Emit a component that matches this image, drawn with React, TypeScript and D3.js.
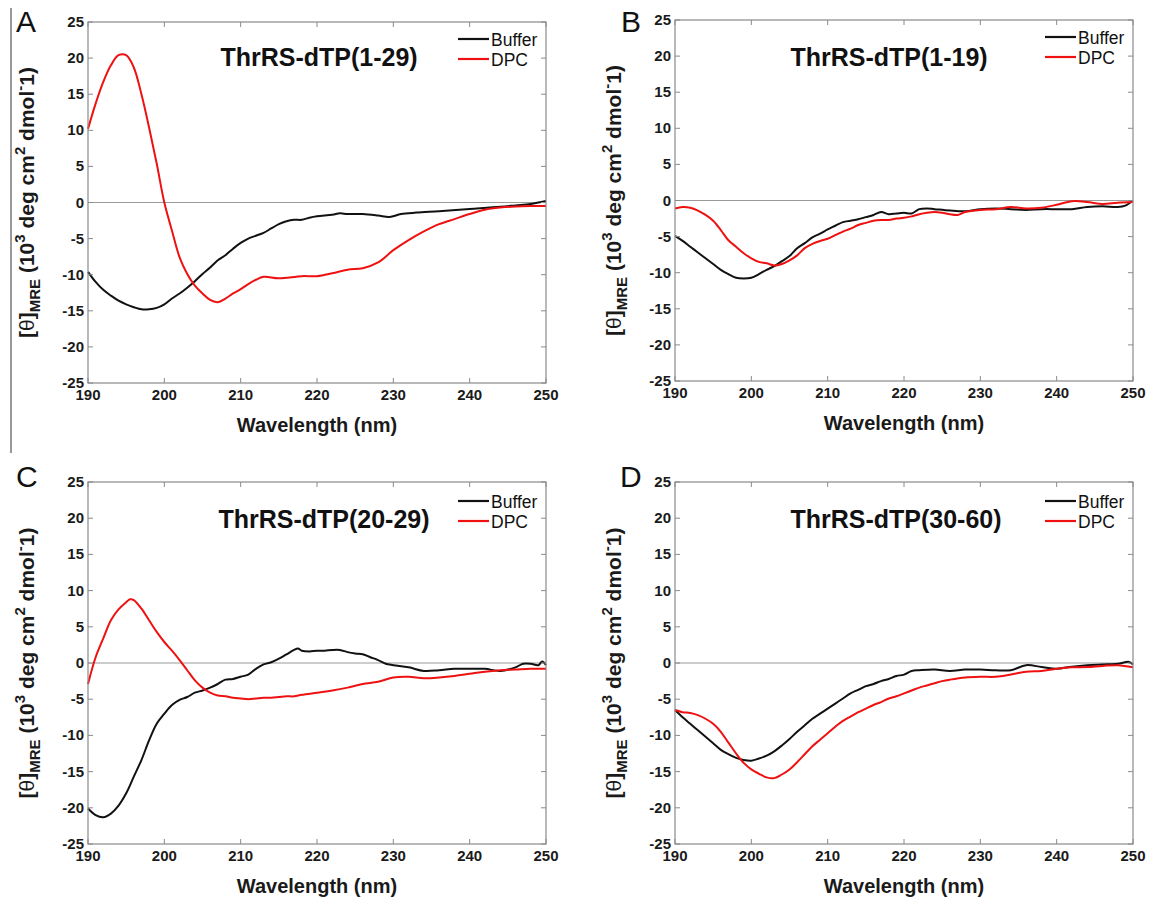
import React, { useRef, useEffect } from 'react';
import * as d3 from 'd3';

// axis ticks shared by all four panels
const wavelengthTicks = [190, 200, 210, 220, 230, 240, 250];
const thetaTicks = [-25, -20, -15, -10, -5, 0, 5, 10, 15, 20, 25];
const seriesNames = ['Buffer', 'DPC'];
const seriesColors = ['#111111', '#ee1111'];
const panelLetters = ['A', 'B', 'C', 'D'];
const panelTitles = ['ThrRS-dTP(1-29)', 'ThrRS-dTP(1-19)', 'ThrRS-dTP(20-29)', 'ThrRS-dTP(30-60)'];

// [wavelength nm, theta MRE 10^3 deg cm2 dmol-1]
const bufferA = [
  [190, -9.6], [191, -11.0], [192, -12.1], [193, -12.9], [194, -13.6], [195, -14.1], [196, -14.5],
  [197, -14.8], [198, -14.8], [199, -14.6], [200, -14.1], [201, -13.3], [202, -12.6], [203, -11.8],
  [204, -10.9], [205, -9.9], [206, -9.0], [207, -8.0], [208, -7.3], [209, -6.4], [210, -5.6],
  [211, -5.0], [212, -4.6], [213, -4.2], [214, -3.6], [215, -3.0], [216, -2.6], [217, -2.4],
  [218, -2.4], [219, -2.1], [220, -1.9], [222, -1.7], [223, -1.5], [224, -1.6], [226, -1.6],
  [228, -1.8], [229.5, -2.0], [231, -1.6], [233, -1.4], [236, -1.2], [240, -0.9], [244, -0.6],
  [246, -0.4], [248, -0.2], [250, 0.2],
];
const dpcA = [
  [190, 10.2], [191, 13.7], [192, 16.7], [193, 19.0], [194, 20.4], [195, 20.4],
  [196, 18.7], [197, 15.0], [198, 10.4], [199, 5.4], [200, 0.0], [201, -3.9], [202, -7.6],
  [203, -9.9], [204, -11.5], [205, -12.6], [206, -13.5], [207, -13.8], [208, -13.3], [209, -12.6],
  [210, -12.0], [211, -11.3], [212, -10.7], [213, -10.3], [215, -10.5], [218, -10.2], [220, -10.2],
  [222, -9.8], [224, -9.3], [226, -9.1], [228, -8.3], [230, -6.6], [232, -5.2], [234, -4.0],
  [236, -3.0], [238, -2.3], [240, -1.6], [242, -1.0], [244, -0.7], [246, -0.55], [248, -0.5],
  [250, -0.5],
];
const bufferB = [
  [190, -4.9], [191, -5.6], [192, -6.4], [193, -7.2], [194, -8.0], [195, -8.8], [196, -9.6],
  [197, -10.2], [198, -10.7], [199, -10.8], [200, -10.7], [201, -10.2], [202, -9.6], [203, -9.1],
  [204, -8.4], [205, -7.7], [206, -6.6], [207, -5.9], [208, -5.1], [209, -4.6], [210, -4.0],
  [211, -3.5], [212, -3.0], [213, -2.8], [214, -2.6], [215, -2.3], [216, -2.0], [217, -1.6],
  [218, -1.9], [219, -1.8], [220, -1.7], [221, -1.8], [222, -1.2], [223, -1.1], [224, -1.2],
  [226, -1.4], [228, -1.5], [230, -1.2], [232, -1.1], [234, -1.2], [236, -1.3], [238, -1.2],
  [240, -1.2], [242, -1.2], [244, -0.9], [246, -0.8], [248, -0.9], [249, -0.7], [250, 0.0],
];
const dpcB = [
  [190, -1.1], [191, -0.9], [192, -1.0], [193, -1.4], [194, -2.0], [195, -2.8], [196, -4.1],
  [197, -5.5], [198, -6.4], [199, -7.3], [200, -8.0], [201, -8.5], [202, -8.7], [203, -9.0],
  [204, -8.8], [205, -8.3], [206, -7.6], [207, -6.6], [208, -6.0], [209, -5.6], [210, -5.3],
  [211, -4.8], [212, -4.3], [213, -3.9], [214, -3.4], [215, -3.1], [216, -2.8], [217, -2.7],
  [218, -2.7], [219, -2.5], [220, -2.4], [221, -2.2], [222, -1.9], [223, -1.7], [224, -1.6],
  [225, -1.7], [226, -1.9], [227, -2.0], [228, -1.6], [230, -1.3], [232, -1.2], [234, -0.9],
  [236, -1.1], [238, -1.0], [240, -0.6], [242, -0.1], [244, -0.2], [246, -0.5], [248, -0.3],
  [250, -0.2],
];
const bufferC = [
  [190, -20.1], [191, -21.0], [192, -21.3], [193, -20.8], [194, -19.7], [195, -18.0], [196, -15.7],
  [197, -13.4], [198, -10.7], [199, -8.4], [200, -7.0], [201, -5.8], [202, -5.1], [203, -4.7],
  [204, -4.1], [205, -3.8], [206, -3.4], [207, -2.9], [208, -2.3], [209, -2.2], [210, -1.9],
  [211, -1.6], [212, -0.8], [213, -0.2], [214, 0.1], [215, 0.6], [216, 1.2], [217, 1.8],
  [217.5, 2.0], [218, 1.7], [219, 1.6], [220, 1.7], [221, 1.7], [222, 1.8], [223, 1.8],
  [224, 1.5], [225, 1.3], [226, 1.2], [227, 0.8], [228, 0.4], [229, -0.1], [230, -0.3],
  [232, -0.6], [234, -1.1], [236, -1.0], [238, -0.8], [240, -0.8], [242, -0.8], [244, -1.1],
  [246, -0.6], [247, -0.1], [248, -0.1], [249, -0.3], [249.5, 0.2], [250, -0.3],
];
const dpcC = [
  [190, -2.9], [191, 0.8], [192, 3.4], [193, 5.9], [194, 7.4], [195, 8.4], [195.5, 8.8],
  [196, 8.7], [197, 7.5], [198, 5.9], [199, 4.3], [200, 2.9], [201, 1.7], [202, 0.4],
  [203, -1.0], [204, -2.4], [205, -3.4], [206, -4.1], [207, -4.5], [208, -4.6], [209, -4.8],
  [210, -4.9], [211, -5.0], [212, -4.9], [213, -4.8], [214, -4.8], [215, -4.7], [216, -4.6],
  [217, -4.6], [218, -4.4], [220, -4.1], [222, -3.8], [224, -3.4], [226, -2.9], [228, -2.6],
  [230, -2.0], [232, -1.9], [234, -2.1], [236, -2.0], [238, -1.8], [240, -1.5], [242, -1.2],
  [244, -1.0], [246, -0.9], [248, -0.8], [250, -0.8],
];
const bufferD = [
  [190, -6.5], [191, -7.5], [192, -8.4], [193, -9.3], [194, -10.2], [195, -11.1], [196, -12.0],
  [197, -12.6], [198, -13.1], [199, -13.4], [200, -13.5], [201, -13.2], [202, -12.8], [203, -12.2],
  [204, -11.4], [205, -10.5], [206, -9.5], [207, -8.6], [208, -7.7], [209, -7.0], [210, -6.3],
  [211, -5.6], [212, -4.9], [213, -4.2], [214, -3.7], [215, -3.2], [216, -2.9], [217, -2.5],
  [218, -2.2], [219, -1.8], [220, -1.6], [221, -1.1], [222, -1.0], [224, -0.9], [226, -1.1],
  [228, -0.9], [230, -0.9], [232, -1.0], [234, -1.0], [236, -0.3], [238, -0.55], [240, -0.8],
  [242, -0.5], [244, -0.3], [246, -0.2], [248, -0.1], [249.5, 0.15], [250, -0.2],
];
const dpcD = [
  [190, -6.5], [191, -6.8], [192, -6.9], [193, -7.2], [194, -7.7], [195, -8.4], [196, -9.5],
  [197, -11.0], [198, -12.5], [199, -13.8], [200, -14.7], [201, -15.3], [202, -15.8], [203, -15.9],
  [204, -15.4], [205, -14.7], [206, -13.7], [207, -12.6], [208, -11.5], [209, -10.6],
  [210, -9.7], [211, -8.8], [212, -8.0], [213, -7.4], [214, -6.8], [215, -6.3], [216, -5.8],
  [217, -5.4], [218, -4.9], [219, -4.6], [220, -4.2], [221, -3.8], [222, -3.4], [223, -3.1],
  [224, -2.8], [225, -2.5], [226, -2.3], [228, -2.0], [230, -1.9], [232, -1.9], [234, -1.6],
  [236, -1.2], [238, -1.1], [240, -0.8], [242, -0.6], [244, -0.55], [246, -0.4], [248, -0.3],
  [250, -0.6],
];

const panelSeries = [
  [bufferA, dpcA],
  [bufferB, dpcB],
  [bufferC, dpcC],
  [bufferD, dpcD],
];

// pixel layout of each panel
const layouts = [
  { x0: 88, x1: 546, y0: 22, y1: 383, letterX: 16, letterY: 32, titleX: 319, titleY: 66, legX: 458, legY: 39 },
  { x0: 675, x1: 1133, y0: 20, y1: 381, letterX: 621, letterY: 32, titleX: 889, titleY: 66, legX: 1045, legY: 37 },
  { x0: 88, x1: 546, y0: 482, y1: 844, letterX: 16, letterY: 487, titleX: 324, titleY: 528, legX: 458, legY: 501 },
  { x0: 675, x1: 1133, y0: 482, y1: 844, letterX: 620, letterY: 487, titleX: 896, titleY: 528, legX: 1045, legY: 501 },
];

const FONT = '"Liberation Sans", Arial, Helvetica, sans-serif';

export default function App() {
  const svgRef = useRef<SVGSVGElement>(null);

  useEffect(() => {
    const svg = d3.select(svgRef.current);
    svg.selectAll('*').remove();

    svg.append('rect').attr('width', 1149).attr('height', 900).attr('fill', '#fff');

    // stray divider line at the left edge of the figure
    svg.append('line')
      .attr('x1', 11).attr('x2', 11).attr('y1', 8).attr('y2', 453)
      .attr('stroke', '#333').attr('stroke-width', 1);

    layouts.forEach((L, i) => {
      const g = svg.append('g');
      const x = d3.scaleLinear().domain([190, 250]).range([L.x0, L.x1]);
      const y = d3.scaleLinear().domain([-25, 25]).range([L.y1, L.y0]);

      // zero line
      g.append('line')
        .attr('x1', x(190)).attr('x2', x(250)).attr('y1', y(0)).attr('y2', y(0))
        .attr('stroke', '#9a9a9a').attr('stroke-width', 1);

      // curves
      const line = d3.line<number[]>()
        .x(d => x(d[0]))
        .y(d => y(d[1]))
        .curve(d3.curveCatmullRom.alpha(0.5));

      panelSeries[i].forEach((s, k) => {
        g.append('path')
          .datum(s)
          .attr('d', line)
          .attr('fill', 'none')
          .attr('stroke', seriesColors[k])
          .attr('stroke-width', 2)
          .attr('stroke-linejoin', 'round');
      });

      // frame
      g.append('rect')
        .attr('x', L.x0).attr('y', L.y0)
        .attr('width', L.x1 - L.x0).attr('height', L.y1 - L.y0)
        .attr('fill', 'none').attr('stroke', '#8a8a8a').attr('stroke-width', 1.2);

      // inward ticks on all four sides
      const tickLen = 5;
      wavelengthTicks.forEach(t => {
        g.append('line').attr('x1', x(t)).attr('x2', x(t)).attr('y1', L.y1).attr('y2', L.y1 - tickLen)
          .attr('stroke', '#8a8a8a');
        g.append('line').attr('x1', x(t)).attr('x2', x(t)).attr('y1', L.y0).attr('y2', L.y0 + tickLen)
          .attr('stroke', '#8a8a8a');
      });
      thetaTicks.forEach(t => {
        g.append('line').attr('x1', L.x0).attr('x2', L.x0 + tickLen).attr('y1', y(t)).attr('y2', y(t))
          .attr('stroke', '#8a8a8a');
        g.append('line').attr('x1', L.x1).attr('x2', L.x1 - tickLen).attr('y1', y(t)).attr('y2', y(t))
          .attr('stroke', '#8a8a8a');
      });

      // tick labels
      g.selectAll('.xl').data(wavelengthTicks).enter().append('text')
        .attr('x', d => x(d)).attr('y', L.y1 + 17)
        .attr('text-anchor', 'middle')
        .style('font', `bold 15px ${FONT}`).attr('fill', '#1a1a1a')
        .text(d => d);
      g.selectAll('.yl').data(thetaTicks).enter().append('text')
        .attr('x', L.x0 - 4).attr('y', d => y(d) + 5)
        .attr('text-anchor', 'end')
        .style('font', `bold 15px ${FONT}`).attr('fill', '#1a1a1a')
        .text(d => d);

      // x axis title
      g.append('text')
        .attr('x', (L.x0 + L.x1) / 2).attr('y', L.y1 + 49)
        .attr('text-anchor', 'middle')
        .style('font', `bold 20px ${FONT}`).attr('fill', '#1a1a1a')
        .text('Wavelength (nm)');

      // y axis title
      const yt = g.append('text')
        .attr('transform', `translate(${L.x0 - 54},${(L.y0 + L.y1) / 2}) rotate(-90)`)
        .attr('text-anchor', 'middle')
        .style('font', `bold 21px ${FONT}`).attr('fill', '#1a1a1a');
      yt.append('tspan').text('[');
      yt.append('tspan').style('font-weight', 'normal').text('θ');
      yt.append('tspan').text(']');
      yt.append('tspan').attr('dy', 6).style('font-size', '15px').text('MRE');
      yt.append('tspan').attr('dy', -6).text(' (10');
      yt.append('tspan').attr('dy', -9).style('font-size', '15px').text('3');
      yt.append('tspan').attr('dy', 9).text(' deg cm');
      yt.append('tspan').attr('dy', -9).style('font-size', '15px').text('2');
      yt.append('tspan').attr('dy', 9).text(' dmol');
      yt.append('tspan').attr('dy', -9).style('font-size', '15px').text('-');
      yt.append('tspan').attr('dy', 9).text('1)');

      // panel title
      g.append('text')
        .attr('x', L.titleX).attr('y', L.titleY)
        .attr('text-anchor', 'middle')
        .style('font', `bold 25px ${FONT}`).attr('fill', '#111')
        .text(panelTitles[i]);

      // panel letter
      g.append('text')
        .attr('x', L.letterX).attr('y', L.letterY)
        .style('font', `30px ${FONT}`).attr('fill', '#111')
        .text(panelLetters[i]);

      // legend
      seriesNames.forEach((name, k) => {
        const ly = L.legY + k * 20;
        g.append('line')
          .attr('x1', L.legX).attr('x2', L.legX + 31).attr('y1', ly).attr('y2', ly)
          .attr('stroke', seriesColors[k]).attr('stroke-width', 2.2);
        g.append('text')
          .attr('x', L.legX + 33).attr('y', ly + 6.5)
          .style('font', `17.5px ${FONT}`).attr('fill', '#111')
          .text(name);
      });
    });
  }, []);

  return (
    <svg
      ref={svgRef}
      width={1149}
      height={900}
      style={{ position: 'absolute', left: 0, top: 0, display: 'block' }}
    />
  );
}
